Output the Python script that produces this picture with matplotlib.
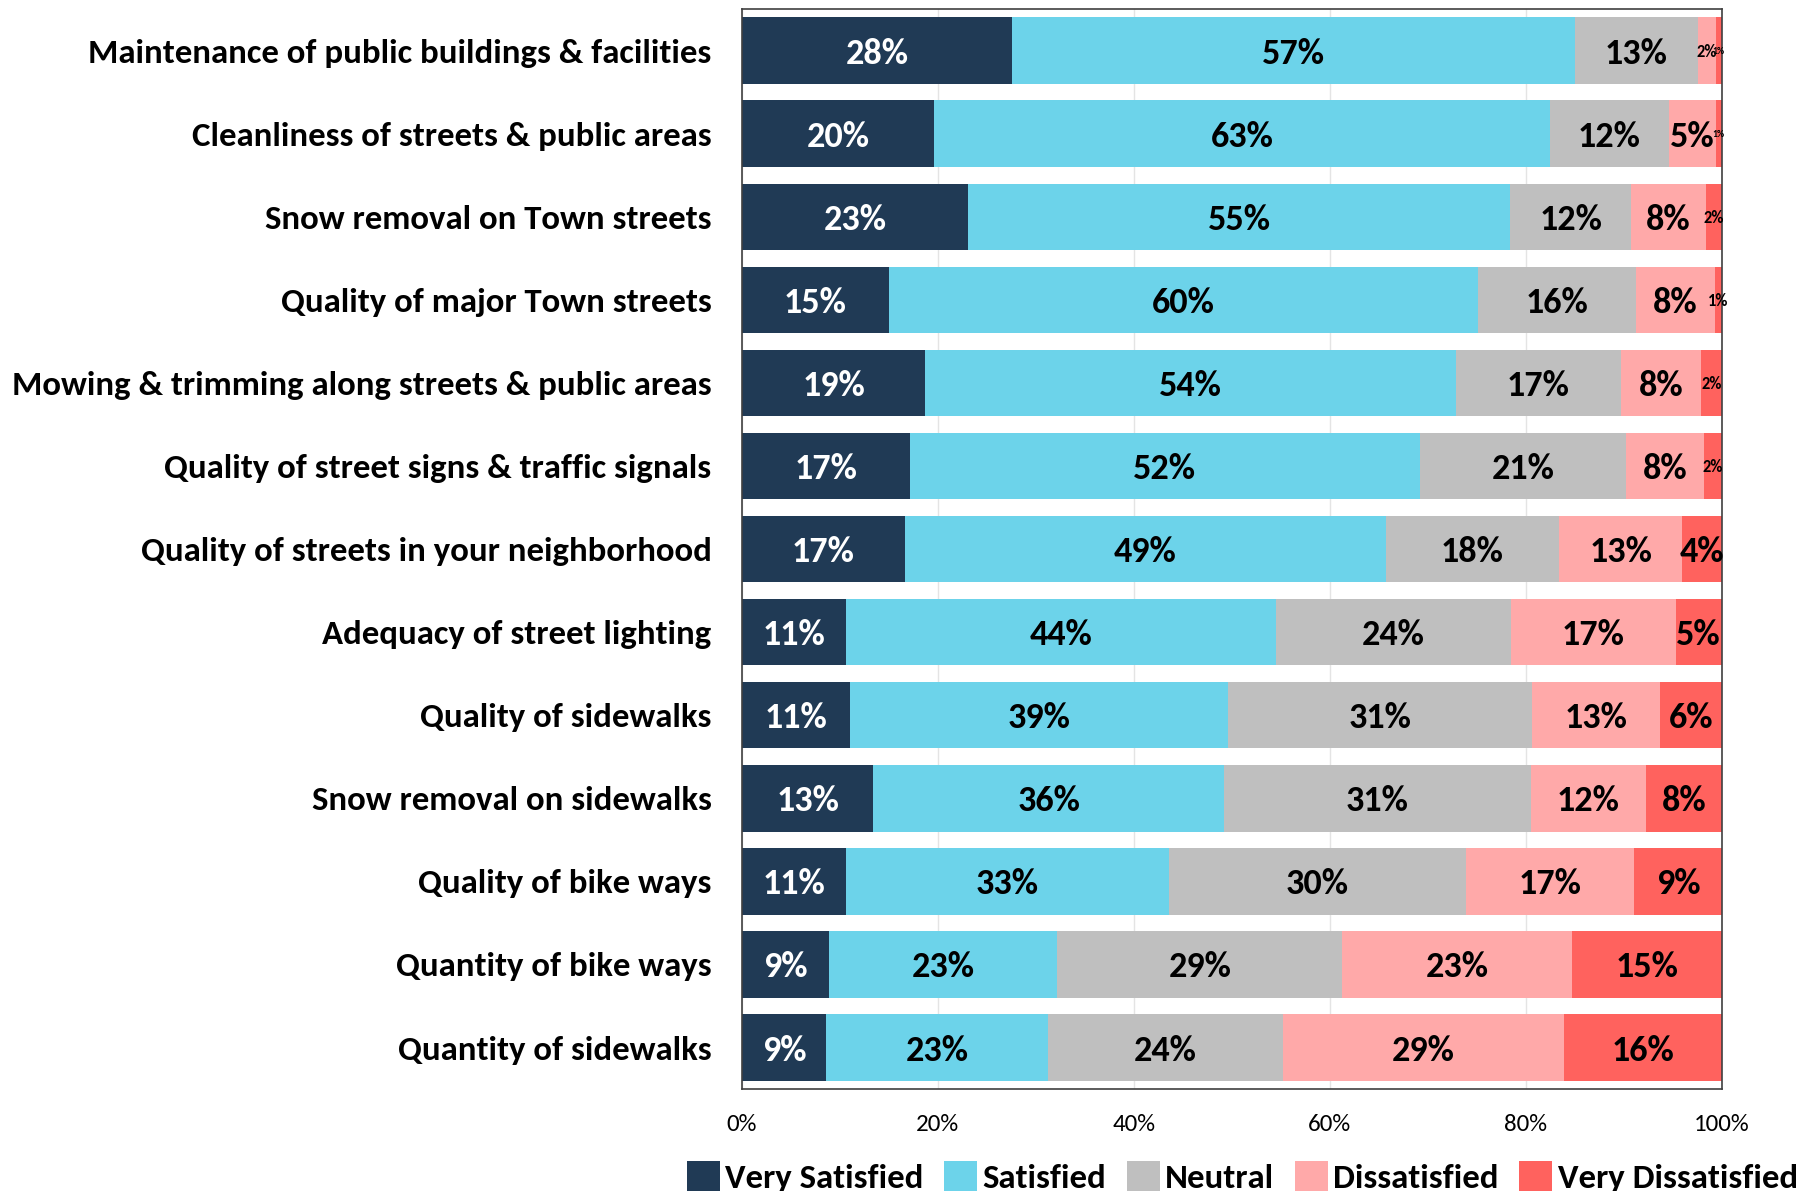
import matplotlib
matplotlib.use("Agg")
import matplotlib.pyplot as plt
from matplotlib import font_manager
import numpy as np

# Prefer a Calibri-like face, then condensed sans faces
names = {f.name for f in font_manager.fontManager.ttflist}
FONT = next((n for n in ["Carlito", "Roboto Condensed", "Archivo Narrow", "Liberation Sans"]
             if n in names), "DejaVu Sans")
plt.rcParams["font.family"] = [FONT, "DejaVu Sans"]

categories = [
    "Maintenance of public buildings & facilities",
    "Cleanliness of streets & public areas",
    "Snow removal on Town streets",
    "Quality of major Town streets",
    "Mowing & trimming along streets & public areas",
    "Quality of street signs & traffic signals",
    "Quality of streets in your neighborhood",
    "Adequacy of street lighting",
    "Quality of sidewalks",
    "Snow removal on sidewalks",
    "Quality of bike ways",
    "Quantity of bike ways",
    "Quantity of sidewalks",
]

very_satisfied = [27.6, 19.6, 23.1, 15.0, 18.7, 17.1, 16.6, 10.6, 11.0, 13.4, 10.6, 8.9, 8.6]
satisfied = [57.4, 62.9, 55.3, 60.1, 54.2, 52.1, 49.1, 43.9, 38.6, 35.8, 33.0, 23.3, 22.6]
neutral = [12.6, 12.1, 12.4, 16.2, 16.8, 21.0, 17.7, 24.0, 31.0, 31.3, 30.3, 29.1, 24.0]
dissatisfied = [1.8, 4.8, 7.6, 8.0, 8.2, 8.0, 12.6, 16.8, 13.1, 11.8, 17.2, 23.4, 28.7]
very_dissatisfied = [0.6, 0.6, 1.6, 0.7, 2.1, 1.8, 4.0, 4.7, 6.3, 7.7, 8.9, 15.3, 16.1]

series_names = ["Very Satisfied", "Satisfied", "Neutral", "Dissatisfied", "Very Dissatisfied"]
series_values = [very_satisfied, satisfied, neutral, dissatisfied, very_dissatisfied]
colors = ["#203A55", "#6CD3EA", "#BFBFBF", "#FFA9A9", "#FF625E"]
text_colors = ["white", "black", "black", "black", "black"]

xtick_values = [0, 20, 40, 60, 80, 100]
xtick_labels = ["0%", "20%", "40%", "60%", "80%", "100%"]

fig = plt.figure(figsize=(18.16, 11.91), dpi=100)
ax = fig.add_axes([0.4086, 0.0856, 0.5394, 0.9068])

y = np.arange(len(categories))
left = np.zeros(len(categories))
for name, vals, col, tcol in zip(series_names, series_values, colors, text_colors):
    vals = np.array(vals)
    ax.barh(y, vals, left=left, height=0.8, color=col, label=name, zorder=2)
    for yi, (l, v) in enumerate(zip(left, vals)):
        if v < 0.65:
            fs = 7
        elif v < 3:
            fs = 12
        else:
            fs = 26
        ax.text(l + v / 2, yi, f"{v:.0f}%", ha="center", va="center_baseline",
                fontsize=fs, fontweight="bold", color=tcol, zorder=3)
    left += vals

ax.set_xlim(0, 100)
ax.set_ylim(len(categories) - 0.5, -0.5)
ax.set_yticks(y)
ax.set_yticklabels(categories, fontsize=25, fontweight="bold")
ax.set_xticks(xtick_values)
ax.set_xticklabels(xtick_labels, fontsize=18)
ax.tick_params(axis="y", length=0, pad=22)
ax.tick_params(axis="x", length=0, pad=18)
ax.grid(axis="x", color="#E4E4E4", linewidth=1, zorder=0)
ax.set_axisbelow(True)
for s in ax.spines.values():
    s.set_color("#404040")
    s.set_linewidth(1.2)

fig.legend(loc="lower center", bbox_to_anchor=(0.684, -0.028), ncol=5,
           frameon=False, handlelength=0.95, handleheight=0.95, handletextpad=0.15,
           columnspacing=0.6, prop={"size": 25, "weight": "bold"})

fig.savefig("out.png", dpi=100)
